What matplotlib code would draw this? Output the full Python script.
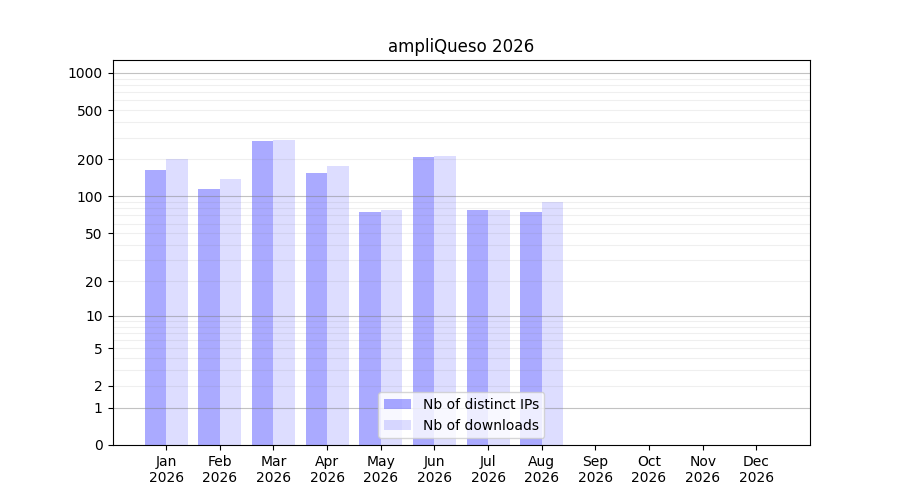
import numpy as np
import matplotlib
matplotlib.use("Agg")
import matplotlib.pyplot as plt

months = ["Jan", "Feb", "Mar", "Apr", "May", "Jun", "Jul", "Aug", "Sep", "Oct", "Nov", "Dec"]
year = 2026
distinct_ips = [165, 115, 282, 155, 75, 209, 77, 75]
downloads = [202, 139, 287, 177, 78, 213, 77, 90]

y_ticks = [0, 1, 2, 5, 10, 20, 50, 100, 200, 500, 1000]
decades = [1, 10, 100, 1000]


def fwd(v):
    return np.log10(1 + np.asarray(v, dtype=float))


def inv(v):
    return 10 ** np.asarray(v, dtype=float) - 1


fig = plt.figure(figsize=(9, 5), dpi=100)
ax = plt.subplot(111)

x = np.arange(len(months))
w = 0.4
ax.bar(x[:len(distinct_ips)] - w / 2, distinct_ips, w, color="blue", alpha=1 / 3,
       label="Nb of distinct IPs")
ax.bar(x[:len(downloads)] + w / 2, downloads, w, color="blue", alpha=0.133,
       label="Nb of downloads")

ax.set_yscale("function", functions=(fwd, inv))
ax.set_ylim(0, 1270)
ax.set_yticks(y_ticks)
ax.set_yticklabels([str(t) for t in y_ticks])
minor = [m * d for d in [1, 10, 100] for m in range(2, 10)]
ax.set_yticks(minor, minor=True)
ax.tick_params(axis="y", which="minor", length=0)
ax.grid(True, which="both", axis="y", color="gray", alpha=0.12, linewidth=0.8)
for d in decades:
    ax.axhline(d, color="gray", alpha=0.4, linewidth=0.8)

ax.set_xlim(-1, len(months))
ax.set_xticks(x)
ax.set_xticklabels([f"{m}\n{year}" for m in months])

ax.set_title(f"ampliQueso {year}")
ax.legend(loc="lower center")

plt.savefig("out.png")
